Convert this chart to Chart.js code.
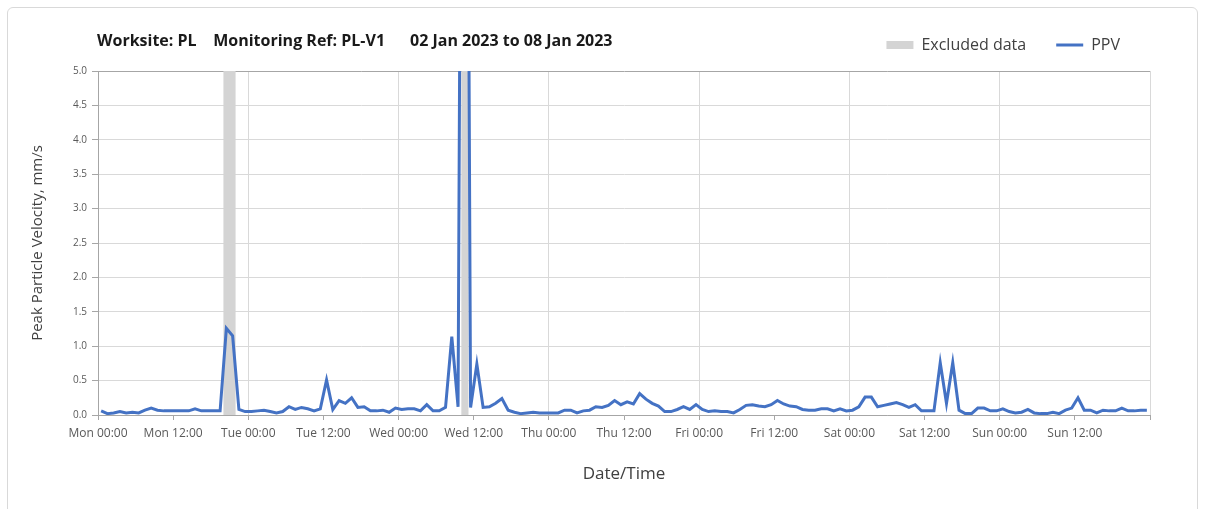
<!DOCTYPE html>
<html><head><meta charset="utf-8">
<script src="https://cdn.jsdelivr.net/npm/chart.js@4.4.1/dist/chart.umd.min.js"></script>
<style>
html,body{margin:0;padding:0;background:#fff;}
#wrap{position:relative;width:1205px;height:509px;overflow:hidden;}
#frame{position:absolute;left:7px;top:7px;width:1189px;height:520px;border:1px solid #d9d9d9;border-radius:6px;pointer-events:none;}
canvas{position:absolute;left:0;top:0;}
</style></head><body>
<div id="wrap"><canvas id="c" width="1205" height="509"></canvas><div id="frame"></div></div>
<script>
const chartTitle = 'Worksite: PL    Monitoring Ref: PL-V1      02 Jan 2023 to 08 Jan 2023';
const yAxisTitle = 'Peak Particle Velocity, mm/s';
const xAxisTitle = 'Date/Time';
const seriesNames = ['Excluded data', 'PPV'];
// x tick labels every 12 hours from Mon 00:00 (last tick unlabelled)
const tickLabels = ['Mon 00:00','Mon 12:00','Tue 00:00','Tue 12:00','Wed 00:00','Wed 12:00','Thu 00:00','Thu 12:00','Fri 00:00','Fri 12:00','Sat 00:00','Sat 12:00','Sun 00:00','Sun 12:00',''];
// hourly PPV readings (mm/s), one per hour starting Mon 00:00
const ppvValues = [
  0.06,0.02,0.03,0.05,0.03,0.04,0.03,0.07,0.10,0.07,0.06,0.06,0.06,0.06,0.06,0.09,0.06,0.06,0.06,0.06,1.26,1.15,0.08,0.05,
  0.05,0.06,0.07,0.05,0.03,0.05,0.12,0.08,0.11,0.09,0.06,0.09,0.51,0.08,0.21,0.17,0.25,0.11,0.12,0.06,0.06,0.07,0.04,0.10,
  0.08,0.09,0.09,0.06,0.15,0.06,0.06,0.11,1.14,0.12,20.0,0.11,0.74,0.11,0.12,0.17,0.24,0.07,0.04,0.02,0.03,0.04,0.03,0.03,
  0.03,0.03,0.07,0.07,0.03,0.06,0.07,0.12,0.11,0.14,0.21,0.15,0.19,0.16,0.31,0.23,0.17,0.13,0.05,0.05,0.08,0.12,0.08,0.15,
  0.08,0.05,0.06,0.05,0.05,0.03,0.08,0.14,0.15,0.13,0.12,0.15,0.21,0.16,0.13,0.12,0.08,0.07,0.07,0.09,0.09,0.06,0.09,0.06,
  0.07,0.12,0.26,0.26,0.12,0.14,0.16,0.18,0.15,0.11,0.15,0.06,0.06,0.06,0.76,0.17,0.76,0.07,0.02,0.02,0.10,0.10,0.06,0.06,
  0.09,0.05,0.03,0.04,0.08,0.03,0.02,0.02,0.04,0.02,0.07,0.10,0.25,0.07,0.07,0.03,0.07,0.06,0.06,0.10,0.06,0.06,0.07,0.07
];
// excluded periods, hours from Mon 00:00 [start, end]
const excludedPeriods = [[20, 22], [58, 59.2]];
const yMin = 0, yMax = 5, yStep = 0.5;
const xMin = 0, xMax = 168, xStep = 12;

const ppvPoints = ppvValues.map((v, i) => ({x: i + 0.5, y: v}));
const excludedPoints = [];
excludedPeriods.forEach((p, k) => {
  if (k > 0) excludedPoints.push({x: p[0], y: null});
  excludedPoints.push({x: p[0], y: yMax}, {x: p[1], y: yMax});
});

const FONT = "'Open Sans', 'DejaVu Sans', sans-serif";

const titlePlugin = {
  id: 'leftTitle',
  afterDraw(chart) {
    const ctx = chart.ctx;
    ctx.save();
    ctx.font = "bold 16px " + FONT;
    ctx.fillStyle = '#1a1a1a';
    ctx.textBaseline = 'middle';
    ctx.textAlign = 'left';
    ctx.fillText(chartTitle, 97, 41);
    ctx.restore();
  }
};

new Chart(document.getElementById('c'), {
  type: 'line',
  data: {
    datasets: [
      {
        label: seriesNames[0],
        data: excludedPoints,
        backgroundColor: '#d4d4d4',
        borderColor: '#d4d4d4',
        borderWidth: 0,
        pointRadius: 0,
        pointStyle: 'rect',
        fill: 'origin',
        spanGaps: false,
        order: 2
      },
      {
        label: seriesNames[1],
        data: ppvPoints,
        borderColor: '#4472C4',
        backgroundColor: '#4472C4',
        borderWidth: 3,
        pointRadius: 0,
        pointStyle: 'line',
        tension: 0,
        fill: false,
        order: 1
      }
    ]
  },
  options: {
    responsive: false,
    animation: false,
    events: [],
    layout: {padding: {top: 7, left: 0, right: 55, bottom: 0}},
    plugins: {
      tooltip: {enabled: false},
      // empty spacer between legend row and plot area
      title: {display: true, text: ' ', weight: 500, font: {size: 8, lineHeight: 1}, padding: 0},
      legend: {
        display: true,
        position: 'top',
        align: 'end',
        labels: {
          usePointStyle: true,
          pointStyleWidth: 27,
          boxHeight: 8,
          padding: 30,
          color: '#404040',
          font: {family: FONT, size: 16},
          sort: (a, b) => a.datasetIndex - b.datasetIndex
        }
      }
    },
    scales: {
      x: {
        type: 'linear',
        min: xMin, max: xMax,
        afterFit: s => { s.height = 94; },
        ticks: {
          stepSize: xStep,
          autoSkip: false,
          maxRotation: 0,
          padding: 6,
          color: '#595959',
          font: {family: FONT, size: 12},
          callback: v => tickLabels[Math.round(v / xStep)]
        },
        grid: {
          color: c => (c.tick && c.tick.value % 24 === 0) ? '#d9d9d9' : 'rgba(0,0,0,0)',
          tickColor: '#a6a6a6',
          tickLength: 5,
          lineWidth: 1
        },
        border: {display: true, color: '#a6a6a6', width: 1},
        title: {display: true, text: xAxisTitle, color: '#404040', font: {family: FONT, size: 17}, padding: {top: 0, bottom: 25}}
      },
      y: {
        type: 'linear',
        min: yMin, max: yMax,
        afterFit: s => { s.width = 98; },
        ticks: {
          stepSize: yStep,
          padding: 5,
          color: '#595959',
          font: {family: FONT, size: 10},
          callback: v => v.toFixed(1)
        },
        grid: {
          color: c => (c.tick && c.tick.value === yMax) ? '#a6a6a6' : '#d9d9d9',
          tickColor: '#a6a6a6',
          tickLength: 6,
          lineWidth: 1
        },
        border: {display: true, color: '#a6a6a6', width: 1},
        title: {display: true, text: yAxisTitle, color: '#404040', font: {family: FONT, size: 15}, padding: {top: 29, bottom: 0}}
      }
    }
  },
  plugins: [titlePlugin]
});
</script>
</body></html>
